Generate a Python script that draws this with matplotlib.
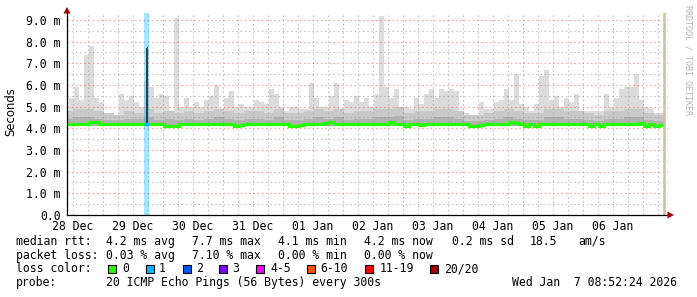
import matplotlib
matplotlib.use("Agg")
import matplotlib.pyplot as plt
from matplotlib.patches import Polygon, Rectangle
import numpy as np

# ---- data -----------------------------------------------------------
# time axis: days since 28 Dec 00:00, smoke kept in 2 hour bins
bin_start = 0.35
bin_days = 2 / 24

# top of the smoke (ms), one value per 2 h bin
rtt_max = [4.8, 5.4, 5.9, 5.3, 7.4, 7.8, 5.4, 5.2, 4.7, 4.6,
           4.6, 5.6, 5.3, 5.5, 5.2, 5.0, 6.2, 5.9, 5.4, 5.6,
           5.5, 4.8, 9.1, 5.0, 5.4, 5.0, 5.2, 5.0, 5.3, 5.5,
           6.0, 4.8, 5.4, 5.7, 5.0, 5.1, 5.0, 5.0, 5.3, 5.2,
           5.1, 5.8, 5.6, 5.0, 4.8, 5.0, 5.0, 4.9, 4.9, 6.1,
           5.4, 5.0, 5.0, 5.5, 6.1, 4.8, 5.3, 5.2, 5.5, 5.2,
           5.4, 5.0, 5.6, 9.2, 5.9, 5.4, 5.8, 5.0, 5.0, 4.9,
           5.4, 5.1, 5.6, 5.8, 5.4, 5.8, 5.7, 5.8, 5.7, 4.8,
           4.7, 4.6, 4.6, 5.2, 4.9, 4.9, 5.2, 5.3, 5.8, 5.3,
           6.5, 5.1, 5.0, 4.8, 5.1, 6.4, 6.7, 5.3, 5.5, 5.0,
           5.4, 5.2, 5.6, 4.8, 4.8, 4.8, 4.8, 4.8, 5.6, 5.0,
           5.4, 5.8, 5.9, 5.9, 6.5, 5.3, 5.0, 4.9, 4.7, 4.7]

# inner smoke bands (ms), one value per 4 h bin
rtt_mid = [4.8, 4.9, 4.9, 4.8, 4.7, 4.6, 4.8, 4.7, 4.9, 4.7,
           4.8, 4.7, 4.8, 4.7, 4.8, 4.9, 4.8, 4.7, 4.8, 4.8,
           4.7, 4.9, 4.7, 4.7, 4.8, 4.9, 4.8, 4.9, 4.7, 4.8,
           4.8, 4.9, 4.9, 5.0, 4.7, 4.8, 4.8, 4.9, 4.9, 4.8,
           4.6, 4.6, 4.7, 4.8, 4.9, 4.8, 4.7, 4.7, 4.9, 4.9,
           4.8, 4.8, 4.7, 4.6, 4.8, 4.8, 4.9, 4.9, 4.7, 4.6]
rtt_core = [4.45, 4.5, 4.5, 4.45, 4.4, 4.4, 4.45, 4.45, 4.5, 4.4,
            4.45, 4.4, 4.45, 4.4, 4.45, 4.5, 4.45, 4.4, 4.45, 4.45,
            4.4, 4.5, 4.4, 4.4, 4.45, 4.5, 4.45, 4.5, 4.4, 4.45,
            4.45, 4.5, 4.5, 4.55, 4.4, 4.45, 4.45, 4.5, 4.5, 4.45,
            4.35, 4.35, 4.4, 4.45, 4.5, 4.45, 4.4, 4.4, 4.5, 4.5,
            4.45, 4.45, 4.4, 4.35, 4.45, 4.45, 4.5, 4.5, 4.4, 4.35]
rtt_low = 4.1

# median rtt (ms) per 2 h bin
rtt_median = [4.2, 4.2, 4.2, 4.2, 4.2, 4.28, 4.28, 4.2, 4.2, 4.2,
              4.2, 4.2, 4.2, 4.2, 4.2, 4.2, 4.2, 4.2, 4.2, 4.2,
              4.12, 4.12, 4.12, 4.2, 4.2, 4.2, 4.2, 4.2, 4.2, 4.2,
              4.2, 4.2, 4.2, 4.2, 4.12, 4.15, 4.2, 4.2, 4.2, 4.2,
              4.2, 4.2, 4.2, 4.2, 4.2, 4.12, 4.12, 4.15, 4.2, 4.2,
              4.2, 4.2, 4.25, 4.28, 4.2, 4.2, 4.2, 4.2, 4.2, 4.2,
              4.2, 4.2, 4.2, 4.2, 4.2, 4.27, 4.2, 4.2, 4.12, 4.2,
              4.2, 4.13, 4.2, 4.2, 4.2, 4.2, 4.2, 4.2, 4.2, 4.2,
              4.2, 4.12, 4.12, 4.15, 4.2, 4.2, 4.2, 4.2, 4.2, 4.27,
              4.25, 4.2, 4.12, 4.2, 4.12, 4.2, 4.2, 4.2, 4.2, 4.2,
              4.2, 4.2, 4.2, 4.2, 4.2, 4.12, 4.2, 4.12, 4.2, 4.2,
              4.2, 4.2, 4.2, 4.2, 4.2, 4.26, 4.12, 4.2, 4.12, 4.13]

# the one interval with packet loss (1 of 20 pings)
loss_bins = [16]
loss_peak = [7.7]

day_labels = ['28 Dec', '29 Dec', '30 Dec', '31 Dec', '01 Jan',
              '02 Jan', '03 Jan', '04 Jan', '05 Jan', '06 Jan']
ytick_vals = [0, 1, 2, 3, 4, 5, 6, 7, 8, 9]
ytick_labels = ['0.0', '1.0 m', '2.0 m', '3.0 m', '4.0 m',
                '5.0 m', '6.0 m', '7.0 m', '8.0 m', '9.0 m']

loss_names = ['0', '1', '2', '3', '4-5', '6-10', '11-19', '20/20']
loss_colors = ['#26ff00', '#00b8ff', '#0059ff', '#7e00ff',
               '#ff00ff', '#ff5500', '#ff0000', '#a10000']

# ---- figure ---------------------------------------------------------
W, H = 697, 297
MONO = 'DejaVu Sans Mono'
FS = 8.3

fig = plt.figure(figsize=(W / 100, H / 100), dpi=100)
ax = fig.add_axes((67 / W, 1 - 215 / H, (668 - 67) / W, (215 - 13) / H))
ax.set_xlim(0.4, 0.4 + (668 - 67) / 60)
ax.set_ylim(0, 9.32)

n = len(rtt_max)
edges = bin_start + np.arange(n + 1) * bin_days
edges2 = bin_start + np.arange(len(rtt_mid) + 1) * 2 * bin_days
mx = np.array(rtt_max)

# smoke
ax.bar(edges[:-1], mx - rtt_low, width=bin_days, bottom=rtt_low,
       align='edge', color='#dcdcdc', lw=0, zorder=2)
ax.bar(edges2[:-1], np.array(rtt_mid) - rtt_low, width=2 * bin_days,
       bottom=rtt_low, align='edge', color='#c9c9c9', lw=0, zorder=2.1)
ax.bar(edges2[:-1], np.array(rtt_core) - rtt_low, width=2 * bin_days,
       bottom=rtt_low, align='edge', color='#b2b2b2', lw=0, zorder=2.2)

# grid
major_c = (1.0, 0.37, 0.37, 0.6)
minor_c = (0.62, 0.62, 0.62, 0.6)
dots = (0, (1.4, 2.4))
for d in np.arange(0.5, 10.4, 0.25):
    c = major_c if d % 1 == 0 else minor_c
    ax.axvline(d, color=c, lw=0.8, ls=dots, zorder=3)
for v in np.arange(0.5, 9.1, 0.5):
    c = major_c if v % 1 == 0 else minor_c
    ax.axhline(v, color=c, lw=0.8, ls=dots, zorder=3)

# loss background and loss interval
for b, peak in zip(loss_bins, loss_peak):
    ax.axvspan(edges[b], edges[b + 1], color='#00b8ff', alpha=0.35,
               lw=0, zorder=3.2)
    mid = edges[b] + bin_days * 0.6
    ax.bar(mid, peak - rtt_median[b], width=bin_days * 0.55,
           bottom=rtt_median[b], color='#3c3c3c', lw=0, zorder=3.5)
    ax.hlines(peak, mid - bin_days * 0.1, mid + bin_days * 0.28,
              color='#0059ff', lw=1.6, zorder=3.6)

# median line
ax.stairs(rtt_median, edges, baseline=None, color='#26ff00', lw=2.3,
          zorder=4)
for b in loss_bins:
    ax.hlines(rtt_median[b], edges[b], edges[b + 1], color='#00b8ff',
              lw=2.3, zorder=4.1)

# "now" line
ax.axvline(edges[-1], color='#c8c4a2', lw=1.8, zorder=5)

# axes
for s in ['top', 'right']:
    ax.spines[s].set_visible(False)
for s in ['left', 'bottom']:
    ax.spines[s].set_linewidth(0.9)
    ax.spines[s].set_color('#000000')
    ax.spines[s].set_zorder(6)
ax.set_xticks([i + 0.5 for i in range(len(day_labels))])
ax.set_xticklabels(day_labels, fontfamily=MONO, fontsize=FS)
ax.set_yticks(ytick_vals)
ax.set_yticklabels(ytick_labels, fontfamily=MONO, fontsize=FS)
ax.tick_params(axis='both', length=0)
ax.tick_params(axis='x', pad=3.5)
ax.tick_params(axis='y', pad=4.5)


def fpx(x, y):
    return (x / W, 1 - y / H)


arrow_c = '#a00000'
fig.patches.append(Polygon([fpx(63.5, 13.5), fpx(70.5, 13.5), fpx(67, 7)],
                           closed=True, transform=fig.transFigure,
                           color=arrow_c, lw=0, zorder=10))
fig.patches.append(Polygon([fpx(667.5, 211.5), fpx(667.5, 218.5), fpx(674, 215)],
                           closed=True, transform=fig.transFigure,
                           color=arrow_c, lw=0, zorder=10))

fig.text(11 / W, 1 - 112 / H, 'Seconds', rotation=90, ha='center',
         va='center', fontsize=8.4, family='DejaVu Sans')
fig.text(688 / W, 1 - 5 / H, 'RRDTOOL / TOBI OETIKER', rotation=270,
         ha='center', va='top', fontsize=6.0, family=MONO, color='#b4b4b4')

# legend block
rows = [245, 258.7, 272.4, 286]


def put(x, row, s):
    fig.text(x / W, 1 - rows[row] / H, s, family=MONO, fontsize=FS,
             ha='left', va='baseline')


put(15.5, 0, 'median rtt:')
put(106.5, 0, '4.2 ms avg')
put(192.5, 0, '7.7 ms max')
put(278.5, 0, '4.1 ms min')
put(364.5, 0, '4.2 ms now')
put(451.5, 0, '0.2 ms sd')
put(529.5, 0, '18.5')
put(578.5, 0, 'am/s')

put(15.5, 1, 'packet loss:')
put(106.5, 1, '0.03 % avg')
put(192.5, 1, '7.10 % max')
put(278.5, 1, '0.00 % min')
put(364.5, 1, '0.00 % now')

put(15.5, 2, 'loss color:')
box_x = [108, 146, 183, 219, 256, 307, 365, 430]
lab_x = [122, 159, 196, 232, 270, 320, 380, 444]
for bx, lx, name, col in zip(box_x, lab_x, loss_names, loss_colors):
    fig.patches.append(Rectangle(fpx(bx, 273), 8 / W, 8 / H,
                                 transform=fig.transFigure, facecolor=col,
                                 edgecolor='black', lw=0.8, zorder=10))
    put(lx, 2, name)

put(15.5, 3, 'probe:')
put(106.5, 3, '20 ICMP Echo Pings (56 Bytes) every 300s')
put(512.5, 3, 'Wed Jan  7 08:52:24 2026')

fig.savefig('out.png', dpi=100)
